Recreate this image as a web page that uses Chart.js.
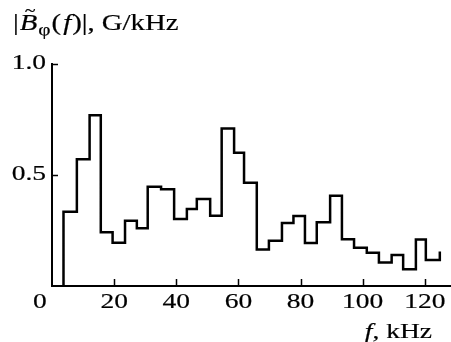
<!DOCTYPE html>
<html>
<head>
<meta charset="utf-8">
<script src="https://cdn.jsdelivr.net/npm/chart.js@4.4.1/dist/chart.umd.min.js"></script>
<style>
  html, body { margin: 0; padding: 0; background: #fff; }
  #wrap { width: 451px; height: 342px; }
</style>
</head>
<body>
<div id="wrap"><canvas id="c" width="451" height="342"></canvas></div>
<script>
// Spectrum amplitude |B~phi(f)| in 31 frequency bins (kHz), drawn as a step histogram
const binEdges = [3.7, 8.0, 12.1, 15.7, 19.5, 23.5, 27.3, 30.8, 35.1, 39.3, 43.4, 46.6, 50.9, 54.6, 58.6, 61.8,
                  65.9, 69.8, 74.0, 77.7, 81.4, 85.2, 89.5, 93.3, 97.2, 101.3, 105.2, 109.3, 113.0, 117.1, 120.3, 124.8];
const binValues = [0.335, 0.571, 0.769, 0.242, 0.195, 0.294, 0.260, 0.447, 0.436, 0.302, 0.347, 0.392, 0.317,
                   0.710, 0.600, 0.465, 0.164, 0.204, 0.284, 0.315, 0.194, 0.287, 0.407, 0.211, 0.172, 0.150,
                   0.106, 0.140, 0.075, 0.210, 0.117];
const tailValue = 0.155;          // level reached by the closing edge of the last bin
const xTicks = [20, 40, 60, 80, 100, 120];
const yTicks = [0.5, 1.0];
const yTickLabels = ['0.5', '1.0'];

// step outline: each point's level is held until the next point's x
const points = [{ x: binEdges[0], y: 0 }];
binValues.forEach((v, i) => points.push({ x: binEdges[i], y: v }));
points.push({ x: binEdges[binEdges.length - 1], y: binValues[binValues.length - 1] });
points.push({ x: binEdges[binEdges.length - 1], y: tailValue });

const SERIF = '"Liberation Serif", "DejaVu Serif", serif';
const SX = 1.25; // wide type face

function textWidth(ctx, s, font) { ctx.font = font; return ctx.measureText(s).width * SX; }
function put(ctx, s, x, y, font) {
  ctx.save();
  ctx.font = font;
  ctx.textBaseline = 'alphabetic';
  ctx.textAlign = 'left';
  ctx.translate(x, y);
  ctx.scale(SX, 1);
  ctx.lineWidth = 0.2;
  ctx.fillText(s, 0, 0);
  ctx.strokeText(s, 0, 0);
  ctx.restore();
  return textWidth(ctx, s, font);
}
function run(ctx, pieces, x, y, measureOnly) {
  let w = 0;
  for (const [s, font, dy] of pieces) {
    if (!measureOnly) put(ctx, s, x + w, y + (dy || 0), font);
    w += textWidth(ctx, s, font);
  }
  return w;
}

const axisDecor = {
  id: 'axisDecor',
  afterDraw(chart) {
    const ctx = chart.ctx;
    const xs = chart.scales.x, ys = chart.scales.y;
    const x0 = xs.getPixelForValue(0), y0 = ys.getPixelForValue(0);
    ctx.save();
    ctx.strokeStyle = '#000';
    ctx.fillStyle = '#000';
    ctx.lineWidth = 1.5;
    // inward tick marks
    ctx.beginPath();
    xTicks.forEach(v => { const px = Math.round(xs.getPixelForValue(v)) + 0.5; ctx.moveTo(px, y0); ctx.lineTo(px, y0 - 7); });
    yTicks.forEach(v => { const py = Math.round(ys.getPixelForValue(v)) + 0.5; ctx.moveTo(x0, py); ctx.lineTo(x0 + 6, py); });
    ctx.stroke();

    const F = '22px ' + SERIF;
    const FI = 'italic 22px ' + SERIF;
    // x tick labels
    xTicks.forEach(v => {
      const s = String(v);
      const w = textWidth(ctx, s, F);
      put(ctx, s, xs.getPixelForValue(v) - w / 2, y0 + 22, F);
    });
    // shared origin label
    put(ctx, '0', x0 - 19, y0 + 22, F);
    // y tick labels
    yTicks.forEach((v, i) => {
      const s = yTickLabels[i];
      const w = textWidth(ctx, s, F);
      put(ctx, s, x0 - 6 - w, ys.getPixelForValue(v) + 5, F);
    });
    // x axis title
    const xt = [['f', FI], [', kHz', F]];
    const wxt = run(ctx, xt, 0, 0, true);
    run(ctx, xt, 432 - wxt, 338);
    // y axis title |B~phi(f)|, G/kHz
    const T = '23px ' + SERIF, TI = 'italic 23px ' + SERIF, TS = '17px ' + SERIF;
    const bx = 13, by = 30;
    let w = 0;
    w += put(ctx, '|', bx + w, by, T);
    const bStart = bx + w;
    w += put(ctx, 'B', bx + w + 1, by, TI) + 1;
    put(ctx, '~', bStart + 6, by - 14, '16px ' + SERIF);
    w += put(ctx, 'φ', bx + w + 1, by + 5, TS) + 2;
    w += put(ctx, '(', bx + w, by, T);
    w += put(ctx, 'f', bx + w + 2, by, TI) + 3;
    w += put(ctx, ')', bx + w, by, T);
    w += put(ctx, '|', bx + w, by, T);
    put(ctx, ', G/kHz', bx + w, by, T);
    ctx.restore();
  }
};

new Chart(document.getElementById('c'), {
  type: 'line',
  data: {
    datasets: [{
      data: points,
      stepped: 'before',
      borderColor: '#000',
      borderWidth: 2.5,
      pointRadius: 0,
      fill: false
    }]
  },
  options: {
    responsive: false,
    animation: false,
    devicePixelRatio: 1,
    layout: { padding: { left: 52, top: 64, right: 0, bottom: 56 } },
    plugins: { legend: { display: false }, tooltip: { enabled: false } },
    scales: {
      x: {
        type: 'linear', min: 0, max: 128.4,
        grid: { display: false },
        border: { display: true, color: '#000', width: 2 },
        ticks: { display: false },
        afterFit: s => { s.height = 0; }
      },
      y: {
        type: 'linear', min: 0, max: 1.0,
        grid: { display: false },
        border: { display: true, color: '#000', width: 2 },
        ticks: { display: false },
        afterFit: s => { s.width = 0; }
      }
    }
  },
  plugins: [axisDecor]
});
</script>
</body>
</html>
